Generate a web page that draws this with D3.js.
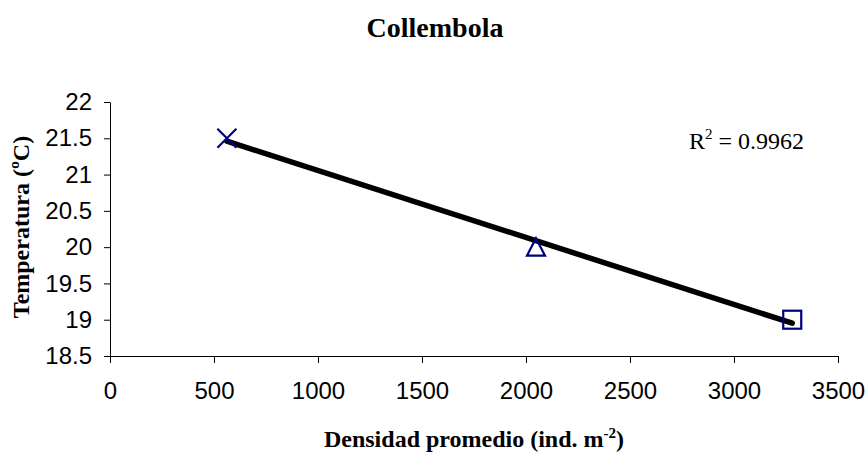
<!DOCTYPE html>
<html>
<head>
<meta charset="utf-8">
<script src="https://cdn.jsdelivr.net/npm/d3@7"></script>
<style>
  html, body { margin: 0; padding: 0; background: #fff; }
  svg { display: block; }
</style>
</head>
<body>
<svg id="chart" width="868" height="453"></svg>
<script>
// Mean density (ind. m^-2) versus temperature (°C) for Collembola
const densidad = [562, 2048, 3280];
const temperatura = [21.5, 20, 19];
const simbolos = ["cross", "triangle", "square"];
const xTicks = [0, 500, 1000, 1500, 2000, 2500, 3000, 3500];
const yTicks = [18.5, 19, 19.5, 20, 20.5, 21, 21.5, 22];
const r2Label = "0.9962";

const svg = d3.select("#chart");
const plotLeft = 110, plotRight = 838, plotTop = 102, plotBottom = 356;

const x = d3.scaleLinear().domain([0, 3500]).range([plotLeft, plotRight]);
const y = d3.scaleLinear().domain([18.5, 22]).range([plotBottom, plotTop]);

const sansFont = "Liberation Sans, Arial, sans-serif";
const serifFont = "Liberation Serif, Times New Roman, serif";

// X axis
const gx = svg.append("g").attr("transform", `translate(0,${plotBottom})`)
  .call(d3.axisBottom(x).tickValues(xTicks).tickFormat(d3.format("d"))
    .tickSize(7).tickSizeOuter(0).tickPadding(19));
gx.selectAll("text").attr("font-family", sansFont).attr("font-size", 24).attr("fill", "#000");

// Y axis
const gy = svg.append("g").attr("transform", `translate(${plotLeft},0)`)
  .call(d3.axisLeft(y).tickValues(yTicks).tickFormat(d3.format(""))
    .tickSize(6).tickSizeOuter(0).tickPadding(12));
gy.selectAll("text").attr("font-family", sansFont).attr("font-size", 24).attr("fill", "#000");

svg.selectAll(".domain, .tick line").attr("stroke", "#000").attr("stroke-width", 1);

// Least-squares trend line over the data range
const mx = d3.mean(densidad), my = d3.mean(temperatura);
let sxy = 0, sxx = 0;
densidad.forEach((d, i) => { sxy += (d - mx) * (temperatura[i] - my); sxx += (d - mx) ** 2; });
const slope = sxy / sxx, intercept = my - slope * mx;
const x0 = d3.min(densidad), x1 = d3.max(densidad);
svg.append("line")
  .attr("x1", x(x0)).attr("y1", y(intercept + slope * x0))
  .attr("x2", x(x1)).attr("y2", y(intercept + slope * x1))
  .attr("stroke", "#000").attr("stroke-width", 5.5).attr("stroke-linecap", "round");

// Markers (hollow, navy)
const navy = "#000080";
densidad.forEach((d, i) => {
  const cx = x(d), cy = y(temperatura[i]);
  const g = svg.append("g").attr("transform", `translate(${cx},${cy})`);
  if (simbolos[i] === "cross") {
    g.append("path").attr("d", "M-9.5,-9.5L9.5,9.5M-9.5,9.5L9.5,-9.5")
      .attr("stroke", navy).attr("stroke-width", 2.2).attr("fill", "none");
  } else if (simbolos[i] === "triangle") {
    g.append("path").attr("d", "M0,-9L9,8.5L-9,8.5Z")
      .attr("stroke", navy).attr("stroke-width", 2.2).attr("fill", "none")
      .attr("stroke-linejoin", "miter");
  } else {
    g.append("rect").attr("x", -9).attr("y", -9).attr("width", 18).attr("height", 18)
      .attr("stroke", navy).attr("stroke-width", 2.2).attr("fill", "none");
  }
});

// Title
svg.append("text").attr("x", 435).attr("y", 37).attr("text-anchor", "middle")
  .attr("font-family", serifFont).attr("font-weight", "bold")
  .attr("font-size", 28).text("Collembola");

// R² annotation
const r2 = svg.append("text").attr("x", 689).attr("y", 149)
  .attr("font-family", serifFont).attr("font-size", 24);
r2.append("tspan").text("R");
r2.append("tspan").attr("dy", -10).attr("font-size", 15).text("2");
r2.append("tspan").attr("dy", 10).text(" = " + r2Label);

// Axis titles
const xl = svg.append("text").attr("x", (plotLeft + plotRight) / 2).attr("y", 447)
  .attr("text-anchor", "middle")
  .attr("font-family", serifFont).attr("font-weight", "bold").attr("font-size", 24);
xl.append("tspan").text("Densidad promedio (ind. m");
xl.append("tspan").attr("dy", -9).attr("font-size", 15).text("-2");
xl.append("tspan").attr("dy", 9).text(")");

svg.append("text").attr("transform", "translate(28.5,227) rotate(-90)").attr("text-anchor", "middle")
  .attr("font-family", serifFont).attr("font-weight", "bold")
  .attr("font-size", 24).text("Temperatura (ºC)");
</script>
</body>
</html>
